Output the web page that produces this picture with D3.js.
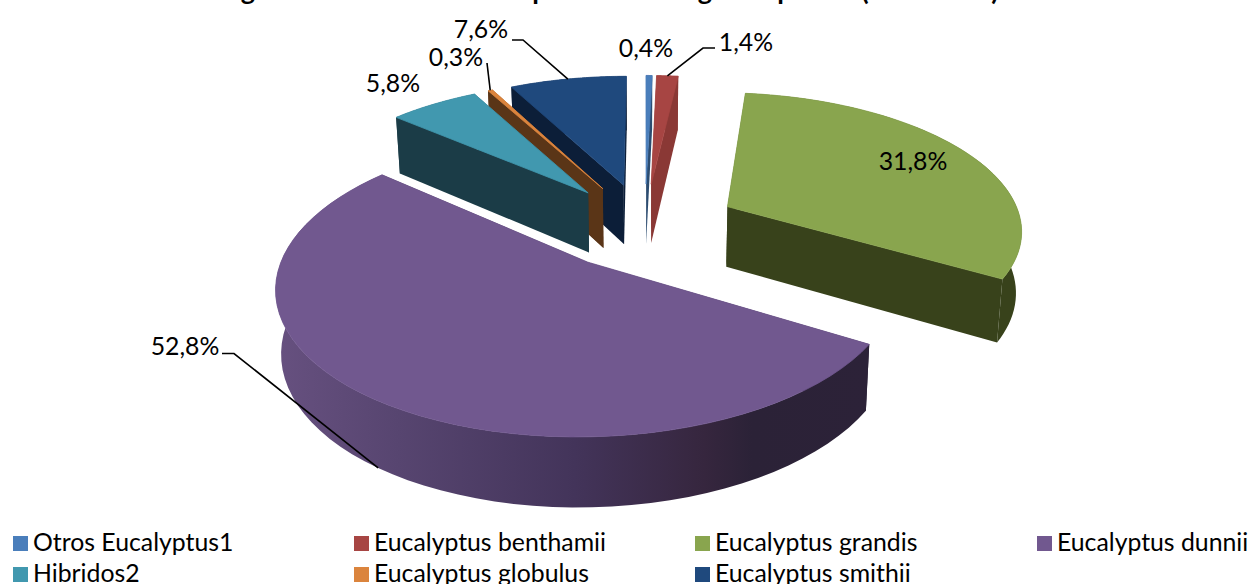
<!DOCTYPE html>
<html lang="es">
<head>
<meta charset="UTF-8">
<title>Eucalyptus</title>
<script src="https://d3js.org/d3.v7.min.js"></script>
<style>
  html, body { margin: 0; padding: 0; background: #fff; overflow: hidden; }
  text { font-family: Lato, "Open Sans", sans-serif; fill: #000; }
</style>
</head>
<body>
<svg id="chart" width="1251" height="584"></svg>
<script>
// Chart data
const species = ["Otros Eucalyptus1", "Eucalyptus benthamii", "Eucalyptus grandis", "Eucalyptus dunnii", "Hibridos2", "Eucalyptus globulus", "Eucalyptus smithii"];
const shares = [0.4, 1.4, 31.8, 52.8, 5.8, 0.3, 7.6];
// Only the descenders of the title are inside the picture, the rest is cut off
const titleGlyphs = ["g", "p", "g", "p", "(", ")"];

// Colours of each slice: top, radial wall
const topColors = ["#4a7ebb", "#a74543", "#89a54e", "#71588f", "#4198af", "#db843d", "#1f497d"];
const wallColors = ["#2c4c70", "#8a3835", "#38421b", "#2c2238", "#1b3c47", "#5a3517", "#0c1e38"];

// Layout
const cx = 645, cy = 225.5;     // pie centre before the slices are pulled out
const radius = 295, pull = 94;
const tilt = 0.462, perspective = 0.15;
const fontSize = 24.8;
const titleX = [248, 540, 705, 785, 865, 995];
const legendX = [13, 354, 695, 1037];
const legendY = [536, 567];
// text centre and leader bend for each slice label
const labelPos = [[646, 47], [746, 41], [913, 160], [185, 345], [393, 82], [456, 56], [481, 28]];
const labelBend = [null, [[715, 48], [703, 48]], null, [[222, 353.5], [234, 353.5]], null, [[487, 63]], [[512, 40], [523, 40]]];

const svg = d3.select("#chart");
const pie = d3.pie().sort(null).value(d => d);
const arcs = pie(shares).map((a, i) => ({ ...a, index: i, mid: (a.startAngle + a.endAngle) / 2 }));

// Project a point of the pie plane on the screen
function project(x, y) {
  const f = 1 / (1 - perspective * y / radius);
  return { x: cx + x * f, y: cy + y * tilt * f, f: f };
}

function topPoint(arc, angle, r) {
  const x = pull * Math.sin(arc.mid) + r * Math.sin(angle);
  const y = -pull * Math.cos(arc.mid) - r * Math.cos(angle);
  const p = project(x, y);
  return [p.x, p.y, p.f];
}

// Same point on the underside of the slice
function bottomPoint(p) {
  return [cx + (p[0] - cx) * 0.985, p[1] + 20 + 41 * p[2]];
}

function rimPoints(arc) {
  return d3.range(0, 61).map(i => {
    const t = d3.interpolateNumber(arc.startAngle, arc.endAngle)(i / 60);
    return topPoint(arc, t, radius);
  });
}

const line = d3.line().x(d => d[0]).y(d => d[1]);
const closed = pts => line(pts) + "Z";

// Shading of the purple outer wall runs left to right
const defs = svg.append("defs");
const rimGradient = defs.append("linearGradient")
  .attr("id", "rimShade")
  .attr("gradientUnits", "userSpaceOnUse")
  .attr("x1", 280).attr("x2", 870).attr("y1", 0).attr("y2", 0);
rimGradient.selectAll("stop")
  .data([[0, "#66507f"], [0.2, "#574570"], [0.5, "#43345a"], [0.72, "#36263e"], [0.8, "#2b2237"], [1, "#2c2238"]])
  .join("stop")
  .attr("offset", d => d[0])
  .attr("stop-color", d => d[1]);

// Slices from the back to the front
const drawOrder = arcs.slice().sort((a, b) => Math.cos(b.mid) - Math.cos(a.mid));
const pieLayer = svg.append("g");

drawOrder.forEach(arc => {
  const i = arc.index;
  const rim = rimPoints(arc);
  const apex = topPoint(arc, arc.mid, 0);
  const first = rim[0], last = rim[rim.length - 1];
  const rimFill = i === 3 ? "url(#rimShade)" : wallColors[i];

  const faces = [
    { pts: [apex, first, bottomPoint(first), bottomPoint(apex)], fill: wallColors[i], y: (apex[1] + first[1]) / 2 },
    { pts: [apex, last, bottomPoint(last), bottomPoint(apex)], fill: wallColors[i], y: (apex[1] + last[1]) / 2 },
    { pts: rim.concat(rim.map(bottomPoint).reverse()), fill: rimFill, y: d3.mean(rim, d => d[1]) }
  ];
  faces.sort((a, b) => a.y - b.y);

  // clip the walls to what lies under the top edge, so no dark fringe shows round the top
  faces.forEach(f => {
    pieLayer.append("path")
      .attr("d", closed(f.pts))
      .attr("fill", f.fill);
  });
  pieLayer.append("path")
    .attr("d", closed([apex].concat(rim)))
    .attr("fill", topColors[i])
    .attr("stroke", topColors[i])
    .attr("stroke-width", 0.8);
});

// Leader lines end on the rim at the middle of the slice
arcs.forEach(arc => {
  const bend = labelBend[arc.index];
  if (!bend) return;
  let end = topPoint(arc, arc.mid, radius);
  if (arc.index === 3) end = bottomPoint(end);
  svg.append("path")
    .attr("d", line(bend.concat([end])))
    .attr("fill", "none")
    .attr("stroke", "#000")
    .attr("stroke-width", 1.6);
});

// Slice labels
svg.append("g").selectAll("text")
  .data(shares)
  .join("text")
  .attr("x", (d, i) => labelPos[i][0])
  .attr("y", (d, i) => labelPos[i][1])
  .attr("text-anchor", "middle")
  .attr("dominant-baseline", "central")
  .attr("font-size", fontSize)
  .text(d => d3.format(".1f")(d).replace(".", ",") + "%");

// Legend, four columns
const legend = svg.append("g").selectAll("g")
  .data(species)
  .join("g")
  .attr("transform", (d, i) => `translate(${legendX[i % 4]},${legendY[Math.floor(i / 4)]})`);
legend.append("rect")
  .attr("width", 15).attr("height", 15)
  .attr("fill", (d, i) => topColors[i]);
legend.append("text")
  .attr("x", 20)
  .attr("y", 14.5)
  .attr("font-size", fontSize)
  .text(d => d);

// What is left of the title at the top edge
svg.append("g").selectAll("text")
  .data(titleGlyphs)
  .join("text")
  .attr("x", (d, i) => titleX[i])
  .attr("y", 0)
  .attr("text-anchor", "middle")
  .attr("font-size", 27)
  .attr("font-weight", "bold")
  .text(d => d);
</script>
</body>
</html>
